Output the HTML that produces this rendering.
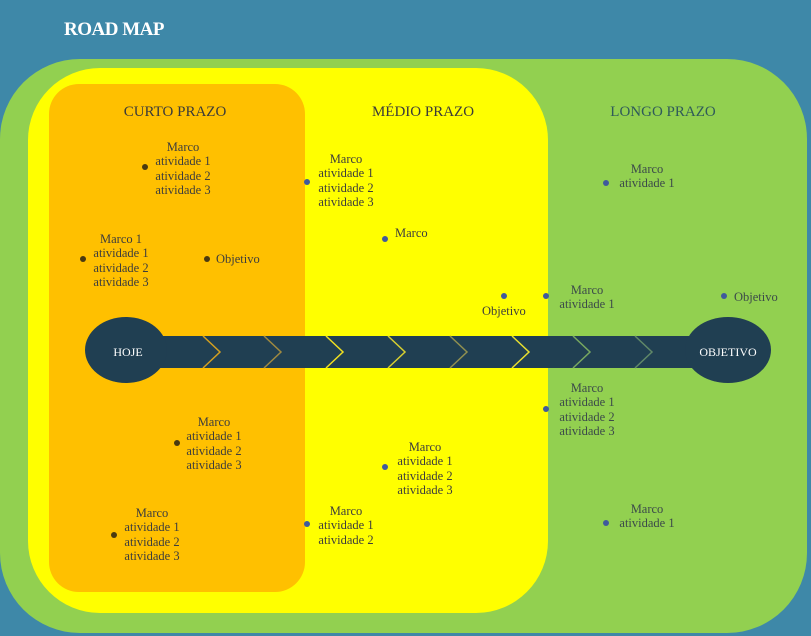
<!DOCTYPE html>
<html><head><meta charset="utf-8"><style>
body{margin:0;width:811px;height:636px;overflow:hidden;background:#3e88a8;position:relative;font-family:"Liberation Serif",serif}
.a{position:absolute}
.t{position:absolute;font-size:12.5px;line-height:14.4px;text-align:center;color:#3d3d3d;white-space:nowrap}
.g{color:#3c4a4a}
.d{position:absolute;width:6px;height:6px;border-radius:50%;background:#3f5a9c}
.o{background:#4a3a10}
.h{position:absolute;font-size:15px;color:#3a3a3a;text-align:center}
</style></head><body>
<div class="a" style="left:64px;top:19px;color:#fff;font-weight:bold;font-size:19px;letter-spacing:-0.5px">ROAD MAP</div>
<div class="a" style="left:0;top:59px;width:807px;height:574px;background:#92d050;border-radius:80px"></div>
<div class="a" style="left:28px;top:68px;width:520px;height:545px;background:#ffff00;border-radius:72px"></div>
<div class="a" style="left:49px;top:84px;width:256px;height:508px;background:#ffc000;border-radius:30px"></div>
<div class="h" style="left:100px;top:104px;width:150px">CURTO PRAZO</div>
<div class="h" style="left:348px;top:104px;width:150px">MÉDIO PRAZO</div>
<div class="h" style="left:588px;top:104px;width:150px;color:#2f5a5a">LONGO PRAZO</div>
<svg class="a" style="left:0;top:0" width="811" height="636">
<rect x="150" y="336" width="560" height="32" fill="#203f52"/>
<g fill="none" stroke-width="1.5">
<polyline points="203,336 220,352 203,368" stroke="#d4a020"/>
<polyline points="264,336 281,352 264,368" stroke="#a08a40"/>
<polyline points="326,336 343,352 326,368" stroke="#f0e020"/>
<polyline points="388,336 405,352 388,368" stroke="#d8d030"/>
<polyline points="450,336 467,352 450,368" stroke="#909050"/>
<polyline points="512,336 529,352 512,368" stroke="#e8e030"/>
<polyline points="573,336 590,352 573,368" stroke="#78a860"/>
<polyline points="635,336 652,352 635,368" stroke="#608868"/>
</g>
<ellipse cx="126" cy="350" rx="41" ry="33" fill="#203f52"/>
<ellipse cx="728" cy="350" rx="43" ry="33" fill="#203f52"/>
<text x="128" y="356" fill="#fff" font-size="12" text-anchor="middle" font-family="Liberation Serif">HOJE</text>
<text x="728" y="356" fill="#fff" font-size="12" text-anchor="middle" font-family="Liberation Serif">OBJETIVO</text>
</svg>
<div class="d o" style="left:142px;top:164px"></div><div class="t" style="left:150px;top:140px;width:66px">Marco<br>atividade 1<br>atividade 2<br>atividade 3</div>
<div class="d o" style="left:80px;top:256px"></div><div class="t" style="left:88px;top:232px;width:66px">Marco 1<br>atividade 1<br>atividade 2<br>atividade 3</div>
<div class="d o" style="left:204px;top:256px"></div><div class="t" style="left:216px;top:252px">Objetivo</div>
<div class="d o" style="left:174px;top:440px"></div><div class="t" style="left:181px;top:415px;width:66px">Marco<br>atividade 1<br>atividade 2<br>atividade 3</div>
<div class="d o" style="left:111px;top:532px"></div><div class="t" style="left:119px;top:506px;width:66px">Marco<br>atividade 1<br>atividade 2<br>atividade 3</div>
<div class="d" style="left:304px;top:179px"></div><div class="t" style="left:313px;top:152px;width:66px">Marco<br>atividade 1<br>atividade 2<br>atividade 3</div>
<div class="d" style="left:382px;top:236px"></div><div class="t" style="left:395px;top:226px">Marco</div>
<div class="d" style="left:501px;top:293px"></div><div class="t" style="left:482px;top:304px">Objetivo</div>
<div class="d" style="left:382px;top:464px"></div><div class="t" style="left:392px;top:440px;width:66px">Marco<br>atividade 1<br>atividade 2<br>atividade 3</div>
<div class="d" style="left:304px;top:521px"></div><div class="t" style="left:313px;top:504px;width:66px">Marco<br>atividade 1<br>atividade 2</div>
<div class="d" style="left:603px;top:180px"></div><div class="t g" style="left:614px;top:162px;width:66px">Marco<br>atividade 1</div>
<div class="d" style="left:543px;top:293px"></div><div class="t g" style="left:554px;top:283px;width:66px">Marco<br>atividade 1</div>
<div class="d" style="left:721px;top:293px"></div><div class="t g" style="left:734px;top:290px">Objetivo</div>
<div class="d" style="left:543px;top:406px"></div><div class="t g" style="left:554px;top:381px;width:66px">Marco<br>atividade 1<br>atividade 2<br>atividade 3</div>
<div class="d" style="left:603px;top:520px"></div><div class="t g" style="left:614px;top:502px;width:66px">Marco<br>atividade 1</div>
</body></html>
